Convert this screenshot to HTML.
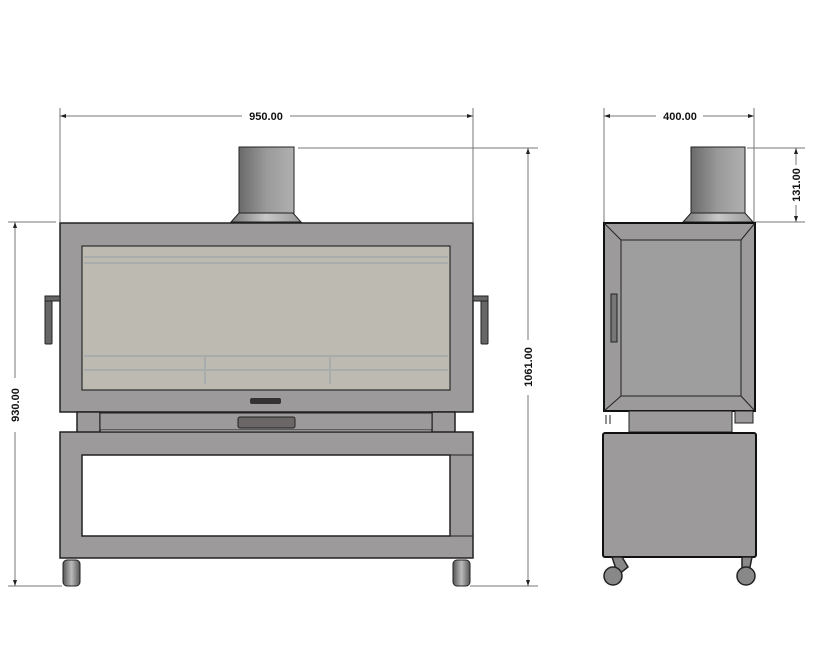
<!DOCTYPE html>
<html><head><meta charset="utf-8"><style>html,body{margin:0;padding:0;background:#fff}svg{display:block}</style></head><body>
<svg width="813" height="659" viewBox="0 0 813 659" xmlns="http://www.w3.org/2000/svg" font-family="Liberation Sans, sans-serif">
<defs>
<linearGradient id="cyl" x1="0" x2="1"><stop offset="0" stop-color="#6a6a6a"/><stop offset="0.5" stop-color="#9a9a9a"/><stop offset="1" stop-color="#b0b0b0"/></linearGradient>
<linearGradient id="col" x1="0" x2="1"><stop offset="0" stop-color="#777"/><stop offset="0.5" stop-color="#c8c8c8"/><stop offset="1" stop-color="#999"/></linearGradient>
<linearGradient id="whl" x1="0" x2="1"><stop offset="0" stop-color="#555"/><stop offset="0.5" stop-color="#bbb"/><stop offset="1" stop-color="#555"/></linearGradient>
</defs>
<g stroke="#777" stroke-width="1" fill="none">
<line x1="60" y1="108" x2="60" y2="222"/><line x1="473" y1="108" x2="473" y2="222"/>
<line x1="60" y1="116" x2="242" y2="116"/><line x1="290" y1="116" x2="473" y2="116"/>
<line x1="298" y1="148" x2="538" y2="148"/><line x1="470" y1="586" x2="538" y2="586"/>
<line x1="528" y1="148" x2="528" y2="340"/><line x1="528" y1="395" x2="528" y2="586"/>
<line x1="8" y1="222" x2="56" y2="222"/><line x1="8" y1="586" x2="62" y2="586"/>
<line x1="15" y1="222" x2="15" y2="378"/><line x1="15" y1="432" x2="15" y2="586"/>
<line x1="604" y1="108" x2="604" y2="222"/><line x1="754" y1="108" x2="754" y2="222"/>
<line x1="604" y1="116" x2="656" y2="116"/><line x1="703" y1="116" x2="754" y2="116"/>
<line x1="747" y1="148" x2="805" y2="148"/><line x1="755" y1="222" x2="805" y2="222"/>
<line x1="796" y1="148" x2="796" y2="165"/><line x1="796" y1="205" x2="796" y2="222"/>
</g>
<g fill="#222">
<path d="M60 116l6 -2v4z"/><path d="M473 116l-6 -2v4z"/>
<path d="M604 116l6 -2v4z"/><path d="M754 116l-6 -2v4z"/>
<path d="M528 148l-2 6h4z"/><path d="M528 586l-2 -6h4z"/>
<path d="M15 222l-2 6h4z"/><path d="M15 586l-2 -6h4z"/>
<path d="M796 148l-2 6h4z"/><path d="M796 222l-2 -6h4z"/>
</g>
<g font-size="11" font-weight="bold" fill="#111" text-anchor="middle">
<text x="266" y="120">950.00</text>
<text x="680" y="120">400.00</text>
<text transform="translate(532,367) rotate(-90)">1061.00</text>
<text transform="translate(19,405) rotate(-90)">930.00</text>
<text transform="translate(800,185) rotate(-90)">131.00</text>
</g>
<!-- FRONT -->
<rect x="239" y="147" width="55" height="66" fill="url(#cyl)" stroke="#222"/>
<path d="M239 213h54l8 9h-70z" fill="url(#col)" stroke="#222"/>
<rect x="60" y="223" width="413" height="189" fill="#9c9a9a" stroke="#222" stroke-width="1.5"/>
<rect x="82" y="246" width="368" height="144" fill="#bdbab2" stroke="#111"/>
<g stroke="#a8acaa" stroke-width="2"><line x1="84" y1="257" x2="448" y2="257"/><line x1="84" y1="263" x2="448" y2="263"/><line x1="84" y1="356" x2="448" y2="356"/><line x1="84" y1="370" x2="448" y2="370"/><line x1="205" y1="356" x2="205" y2="384"/><line x1="330" y1="356" x2="330" y2="384"/></g>
<rect x="250" y="398" width="31" height="6" rx="2" fill="#333"/>
<rect x="45" y="296" width="7" height="48" rx="1" fill="#666" stroke="#222"/><rect x="45" y="296" width="15" height="5" fill="#666" stroke="#222"/>
<rect x="481" y="296" width="7" height="48" rx="1" fill="#666" stroke="#222"/><rect x="473" y="296" width="15" height="5" fill="#666" stroke="#222"/>
<rect x="77" y="412" width="23" height="21" fill="#9c9a9a" stroke="#222" stroke-width="1.5"/>
<rect x="432" y="412" width="23" height="21" fill="#9c9a9a" stroke="#222" stroke-width="1.5"/>
<rect x="100" y="413" width="332" height="17" fill="#9c9a9a" stroke="#222"/>
<rect x="238" y="417" width="57" height="11" rx="2" fill="#6b6767" stroke="#222"/>
<path d="M60 432h413v126h-413z M82 455v81h368v-81z" fill="#9c9a9a" fill-rule="evenodd" stroke="#222" stroke-width="1.5"/>
<line x1="450" y1="455" x2="473" y2="455" stroke="#222"/><line x1="450" y1="536" x2="473" y2="536" stroke="#222"/>
<rect x="63" y="560" width="17" height="26" rx="4" fill="url(#whl)" stroke="#222"/>
<rect x="453" y="560" width="17" height="26" rx="4" fill="url(#whl)" stroke="#222"/>
<!-- SIDE -->
<rect x="691" y="147" width="54" height="66" fill="url(#cyl)" stroke="#222"/>
<path d="M691 213h54l8 9h-70z" fill="url(#col)" stroke="#222"/>
<rect x="604" y="223" width="151" height="188" fill="#9c9a9a" stroke="#111" stroke-width="2"/>
<rect x="621" y="240" width="120" height="156" fill="#9e9e9e" stroke="#222"/>
<g stroke="#222"><line x1="604" y1="223" x2="621" y2="240"/><line x1="755" y1="223" x2="741" y2="240"/><line x1="604" y1="411" x2="621" y2="396"/><line x1="755" y1="411" x2="741" y2="396"/></g>
<rect x="611" y="294" width="6" height="48" fill="#777" stroke="#222"/>
<rect x="629" y="411" width="103" height="21" fill="#9c9a9a" stroke="#222"/>
<rect x="735" y="411" width="18" height="12" fill="#9c9a9a" stroke="#222"/>
<path d="M606 415v9M610 415v9" stroke="#222"/>
<rect x="603" y="433" width="153" height="124" rx="2" fill="#9c9a9a" stroke="#111" stroke-width="2"/>
<g fill="#888" stroke="#222" stroke-width="1.5">
<path d="M612 557h10l6 10-10 8z"/><circle cx="613" cy="576" r="9"/>
<path d="M742 557h10l-2 10-8 5z"/><circle cx="746" cy="576" r="9"/>
</g>
</svg>
</body></html>
